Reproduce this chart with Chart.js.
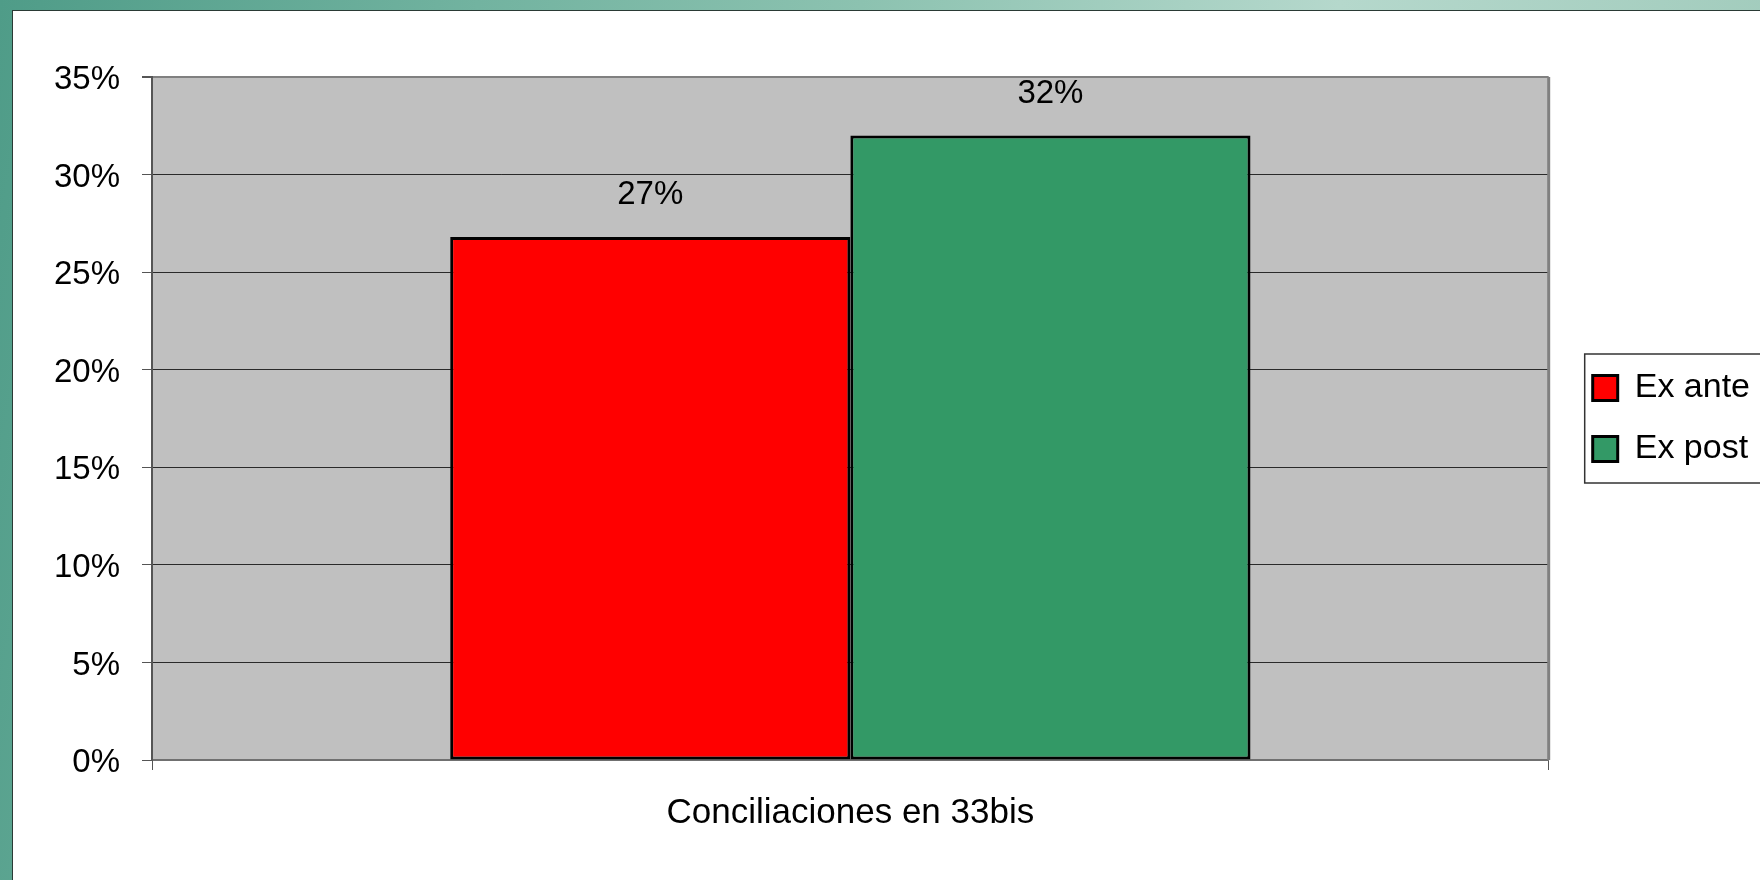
<!DOCTYPE html>
<html>
<head>
<meta charset="utf-8">
<script src="https://cdn.jsdelivr.net/npm/chart.js@4/dist/chart.umd.min.js"></script>
<style>
    html, body { margin: 0; padding: 0; }
    body {
        width: 1760px;
        height: 880px;
        overflow: hidden;
        background: linear-gradient(100deg, #4f9c88 0%, #72b3a0 25%, #8cc2b0 45%, #b5d8cc 70%, #9cc8b8 100%);
        position: relative;
    }
    #panel {
        position: absolute;
        left: 12px;
        top: 10px;
        width: 1748px;
        height: 870px;
        background: #ffffff;
        border-left: 1px solid #2a3a35;
        border-top: 1px solid #2a3a35;
    }
    #chart { display: block; }
</style>
</head>
<body>
<div id="panel"><canvas id="chart" width="1747" height="869"></canvas></div>
<script>
const categories = ['Conciliaciones en 33bis'];
const seriesNames = ['Ex ante', 'Ex post'];
const exAnte = [26.8];
const exPost = [32.0];
const yTickLabels = ['0%', '5%', '10%', '15%', '20%', '25%', '30%', '35%'];

const font = 'Liberation Sans';

// grey plot area + right border
const plotArea = {
    id: 'plotArea',
    beforeDraw(chart) {
        const a = chart.chartArea;
        const c = chart.ctx;
        c.save();
        c.fillStyle = '#c0c0c0';
        c.fillRect(a.left, a.top, a.right - a.left, a.bottom - a.top);
        c.restore();
    },
    beforeDatasetsDraw(chart) {
        const a = chart.chartArea;
        const c = chart.ctx;
        c.save();
        c.strokeStyle = '#808080';
        c.lineWidth = 3;
        c.beginPath();
        c.moveTo(a.right, a.top);
        c.lineTo(a.right, a.bottom);
        c.stroke();
        c.restore();
    }
};

// value labels above bars
const valueLabels = {
    id: 'valueLabels',
    afterDatasetsDraw(chart) {
        const c = chart.ctx;
        c.save();
        c.font = '33px "' + font + '"';
        c.fillStyle = '#000';
        c.textAlign = 'center';
        c.textBaseline = 'middle';
        chart.data.datasets.forEach((ds, i) => {
            chart.getDatasetMeta(i).data.forEach((bar, j) => {
                c.fillText(Math.round(ds.data[j]) + '%', bar.x, bar.y - 42);
            });
        });
        c.restore();
    }
};

// frame around the legend
const legendFrame = {
    id: 'legendFrame',
    afterDraw(chart) {
        const boxes = chart.legend.legendHitBoxes;
        if (!boxes || !boxes.length) return;
        const first = boxes[0];
        const last = boxes[boxes.length - 1];
        const c = chart.ctx;
        c.save();
        c.strokeStyle = '#333';
        c.lineWidth = 1.5;
        c.strokeRect(first.left - 8, first.top - 17, 400, last.top + last.height + 34 - first.top);
        c.restore();
    }
};

new Chart(document.getElementById('chart'), {
    type: 'bar',
    data: {
        labels: categories,
        datasets: [{
            label: seriesNames[0],
            data: exAnte,
            backgroundColor: '#ff0000',
            borderColor: '#000000',
            borderWidth: 3,
            borderSkipped: false
        }, {
            label: seriesNames[1],
            data: exPost,
            backgroundColor: '#339966',
            borderColor: '#000000',
            borderWidth: 3,
            borderSkipped: false
        }]
    },
    options: {
        responsive: false,
        animation: false,
        devicePixelRatio: 1,
        categoryPercentage: 0.573,
        barPercentage: 1.0,
        layout: {
            padding: { top: 66, left: 0, right: 0, bottom: 0 }
        },
        scales: {
            x: {
                grid: {
                    offset: true,
                    drawOnChartArea: false,
                    drawTicks: true,
                    tickLength: 10,
                    color: '#555'
                },
                border: { color: '#707070', width: 2 },
                ticks: {
                    color: '#000',
                    padding: 22,
                    font: { family: font, size: 35 }
                },
                afterFit: (s) => { s.height = 120; }
            },
            y: {
                min: 0,
                max: 35,
                ticks: {
                    stepSize: 5,
                    color: '#000',
                    padding: 22,
                    labelOffset: 3,
                    font: { family: font, size: 33 },
                    callback: (v, i) => yTickLabels[i]
                },
                grid: {
                    color: (ctx) => (ctx.tick && (ctx.tick.value === 35 || ctx.tick.value === 0)) ? '#808080' : '#2a2a2a',
                    lineWidth: (ctx) => (ctx.tick && ctx.tick.value === 35) ? 2 : 1,
                    tickLength: 10,
                    tickColor: '#555'
                },
                border: { color: '#555', width: 2 },
                afterFit: (s) => { s.width = 139; }
            },
            gap: {
                type: 'linear',
                position: 'right',
                display: true,
                grid: { display: false },
                ticks: { display: false },
                border: { display: false },
                afterFit: (s) => { s.width = 17; }
            }
        },
        plugins: {
            legend: {
                position: 'right',
                align: 'center',
                fullSize: false,
                labels: {
                    color: '#000',
                    boxWidth: 25,
                    boxHeight: 25,
                    padding: 27,
                    font: { family: font, size: 34 }
                }
            },
            tooltip: { enabled: false }
        }
    },
    plugins: [plotArea, valueLabels, legendFrame]
});
</script>
</body>
</html>
